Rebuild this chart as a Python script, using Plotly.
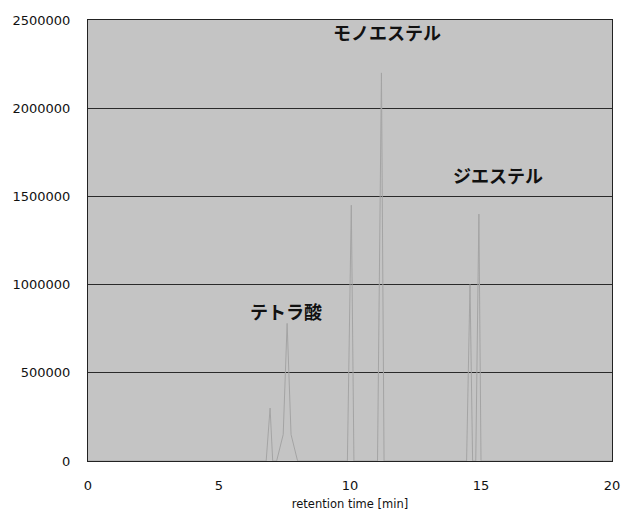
import plotly.graph_objects as go

# Chromatogram trace: retention time [min] and detector response
time_min = [0.0, 6.8, 6.95, 7.05, 7.2, 7.45, 7.6, 7.75, 8.0, 9.9, 10.05, 10.15, 10.3,
            11.05, 11.2, 11.3, 11.45, 14.45, 14.58, 14.68, 14.8, 14.92, 15.0, 15.15, 20.0]
response = [0, 0, 300000, 0, 0, 150000, 780000, 150000, 0, 0, 1450000, 0, 0,
            0, 2200000, 0, 0, 0, 1000000, 0, 0, 1400000, 0, 0, 0]

# Peak annotations
peak_names = ["テトラ酸", "モノエステル", "ジエステル"]
peak_label_x = [7.55, 11.4, 15.65]
peak_label_y = [850000, 2430000, 1620000]

y_ticks = [0, 500000, 1000000, 1500000, 2000000, 2500000]
x_ticks = [0, 5, 10, 15, 20]

fig = go.Figure()
fig.add_trace(go.Scatter(
    x=time_min, y=response, mode="lines",
    line=dict(color="#a4a4a4", width=1),
    showlegend=False, hoverinfo="skip",
))

for name, lx, ly in zip(peak_names, peak_label_x, peak_label_y):
    fig.add_annotation(
        x=lx, y=ly, text=name, showarrow=False,
        font=dict(family="Noto Sans CJK JP", size=18, color="#111111", weight="bold"),
    )

axis_font = dict(family="DejaVu Sans", size=13, color="#111111")
fig.update_layout(
    width=632, height=521,
    margin=dict(l=87, r=13, t=20, b=56),
    paper_bgcolor="white",
    plot_bgcolor="#c4c4c4",
    xaxis=dict(
        range=[0, 20], tickvals=x_ticks, showgrid=False, zeroline=False,
        showline=True, linecolor="#222222", linewidth=1, mirror=True,
        tickfont=axis_font, ticks="", ticklabelstandoff=12,
        title=dict(text="retention time [min]", font=dict(family="DejaVu Sans", size=11.5, color="#111111"), standoff=8),
    ),
    yaxis=dict(
        range=[0, 2500000], tickvals=y_ticks, tickformat="d",
        showgrid=True, gridcolor="#2a2a2a", gridwidth=1, zeroline=False,
        showline=True, linecolor="#222222", linewidth=1, mirror=True,
        tickfont=axis_font, ticks="", ticklabelstandoff=14,
    ),
)

fig.write_html("out.html")
